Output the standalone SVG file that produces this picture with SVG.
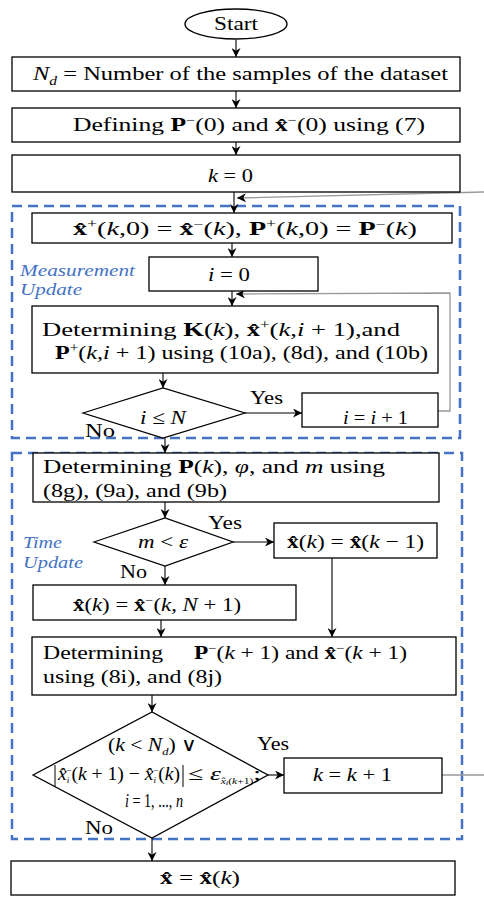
<svg xmlns="http://www.w3.org/2000/svg" width="484" height="897" viewBox="0 0 484 897">
<style>
text{font-family:"Liberation Serif","Times New Roman",serif;font-size:19px;fill:#000}
.box{fill:#fff;stroke:#000;stroke-width:1.3}
.dash{fill:none;stroke:#4472C4;stroke-width:2.5;stroke-dasharray:10,6}
.lbl{font-style:italic;fill:#4472C4;font-size:17px}
.c{fill:none;stroke:#000;stroke-width:1.1}
.g{fill:none;stroke:#999;stroke-width:1.3}
.i{font-style:italic}
.b{font-weight:bold}
.m{text-anchor:middle}
.yn{font-size:18px}
</style>
<defs>
<marker id="ah" viewBox="0 0 10 10" refX="10" refY="5" markerWidth="9" markerHeight="9" orient="auto" markerUnits="userSpaceOnUse">
<path d="M0,0 L10,5 L0,10 L3,5 z" fill="#000"/>
</marker>
</defs>

<g id="regions">
<rect class="dash" x="12" y="206" width="448" height="232"/>
<rect class="dash" x="12" y="453" width="450" height="386"/>
<text class="lbl" x="20" y="276" textLength="115" lengthAdjust="spacingAndGlyphs">Measurement</text>
<text class="lbl" x="20" y="295" textLength="62" lengthAdjust="spacingAndGlyphs">Update</text>
<text class="lbl" x="23" y="548" textLength="39" lengthAdjust="spacingAndGlyphs">Time</text>
<text class="lbl" x="23" y="568" textLength="60" lengthAdjust="spacingAndGlyphs">Update</text>
</g>

<g id="connectors">
<line class="c" x1="236" y1="40" x2="236" y2="57" marker-end="url(#ah)"/>
<line class="c" x1="236" y1="91" x2="236" y2="108" marker-end="url(#ah)"/>
<line class="c" x1="236" y1="142" x2="236" y2="155" marker-end="url(#ah)"/>
<line class="c" x1="234" y1="192" x2="234" y2="213" marker-end="url(#ah)"/>
<line class="g" x1="484" y1="192" x2="237" y2="198" marker-end="url(#ah)"/>
<line class="c" x1="232" y1="243" x2="232" y2="257" marker-end="url(#ah)"/>
<line class="c" x1="232" y1="291" x2="232" y2="306" marker-end="url(#ah)"/>
<polyline class="g" points="438,411 450,411 450,293 236,294" marker-end="url(#ah)"/>
<line class="c" x1="163" y1="373" x2="163" y2="388" marker-end="url(#ah)"/>
<line class="c" x1="245" y1="413" x2="302" y2="413" marker-end="url(#ah)"/>
<line class="c" x1="165" y1="438" x2="165" y2="453" marker-end="url(#ah)"/>
<line class="c" x1="165" y1="502" x2="165" y2="518" marker-end="url(#ah)"/>
<line class="c" x1="233" y1="542" x2="274" y2="542" marker-end="url(#ah)"/>
<line class="c" x1="165" y1="566" x2="165" y2="585" marker-end="url(#ah)"/>
<line class="c" x1="332" y1="558" x2="332" y2="637" marker-end="url(#ah)"/>
<line class="c" x1="161" y1="620" x2="161" y2="637" marker-end="url(#ah)"/>
<line class="c" x1="152" y1="695" x2="152" y2="712" marker-end="url(#ah)"/>
<line class="c" x1="268" y1="775" x2="284" y2="775" marker-end="url(#ah)"/>
<line class="g" x1="442" y1="775" x2="484" y2="775"/>
<line class="c" x1="152" y1="838" x2="152" y2="861" marker-end="url(#ah)"/>
<text class="yn" x="250" y="404" textLength="33" lengthAdjust="spacingAndGlyphs">Yes</text>
<text class="yn" x="85" y="437" textLength="30" lengthAdjust="spacingAndGlyphs">No</text>
<text class="yn" x="208" y="529" textLength="34" lengthAdjust="spacingAndGlyphs">Yes</text>
<text class="yn" x="120" y="578" textLength="27" lengthAdjust="spacingAndGlyphs">No</text>
<text class="yn" x="257" y="750" textLength="32" lengthAdjust="spacingAndGlyphs">Yes</text>
<text class="yn" x="85" y="834" textLength="28" lengthAdjust="spacingAndGlyphs">No</text>
</g>

<g id="start">
<ellipse cx="236" cy="24" rx="51" ry="15" fill="#fff" stroke="#000" stroke-width="1.3"/>
<text class="m" x="236" y="30" textLength="44" lengthAdjust="spacingAndGlyphs">Start</text>
</g>

<g id="n-samples">
<rect class="box" x="12" y="57" width="448" height="34"/>
<text x="33" y="80" textLength="415" lengthAdjust="spacingAndGlyphs"><tspan class="i">N</tspan><tspan class="i" font-size="12" dy="5">d</tspan><tspan dy="-5"> = Number of the samples of the dataset</tspan></text>
</g>

<g id="defining">
<rect class="box" x="12" y="108" width="448" height="34"/>
<text x="73" y="131" textLength="352" lengthAdjust="spacingAndGlyphs">Defining <tspan class="b">P</tspan><tspan font-size="12" dy="-7">−</tspan><tspan dy="7">(0) and  </tspan><tspan class="b">x̂</tspan><tspan font-size="12" dy="-7">−</tspan><tspan dy="7">(0) using (7)</tspan></text>
</g>

<g id="k0">
<rect class="box" x="12" y="155" width="448" height="37"/>
<text x="208" y="182" textLength="45" lengthAdjust="spacingAndGlyphs"><tspan class="i">k</tspan> = 0</text>
</g>

<g id="init-plus">
<rect class="box" x="32" y="213" width="420" height="30"/>
<text x="73" y="235" textLength="344" lengthAdjust="spacingAndGlyphs"><tspan class="b">x̂</tspan><tspan font-size="12" dy="-7">+</tspan><tspan dy="7">(</tspan><tspan class="i">k</tspan>,0) = <tspan class="b">x̂</tspan><tspan font-size="12" dy="-7">−</tspan><tspan dy="7">(</tspan><tspan class="i">k</tspan>),  <tspan class="b">P</tspan><tspan font-size="12" dy="-7">+</tspan><tspan dy="7">(</tspan><tspan class="i">k</tspan>,0) = <tspan class="b">P</tspan><tspan font-size="12" dy="-7">−</tspan><tspan dy="7">(</tspan><tspan class="i">k</tspan>)</text>
</g>

<g id="i0">
<rect class="box" x="149" y="257" width="169" height="34"/>
<text x="208" y="281" textLength="42" lengthAdjust="spacingAndGlyphs"><tspan class="i">i</tspan> = 0</text>
</g>

<g id="det-k">
<rect class="box" x="32" y="306" width="406" height="67"/>
<text x="42" y="336" textLength="358" lengthAdjust="spacingAndGlyphs">Determining    <tspan class="b">K</tspan>(<tspan class="i">k</tspan>),   <tspan class="b">x̂</tspan><tspan font-size="12" dy="-7">+</tspan><tspan dy="7">(</tspan><tspan class="i">k</tspan>,<tspan class="i">i</tspan> + 1),and</text>
<text x="55" y="359" textLength="373" lengthAdjust="spacingAndGlyphs"><tspan class="b">P</tspan><tspan font-size="12" dy="-7">+</tspan><tspan dy="7">(</tspan><tspan class="i">k</tspan>,<tspan class="i">i</tspan> + 1) using (10a), (8d), and (10b)</text>
</g>

<g id="dec-i">
<polygon points="83,413 163,388 245,413 163,438" fill="#fff" stroke="#000" stroke-width="1.3"/>
<text x="140" y="424" textLength="46" lengthAdjust="spacingAndGlyphs"><tspan class="i">i</tspan> ≤ <tspan class="i">N</tspan></text>
</g>

<g id="i-inc">
<rect class="box" x="302" y="393" width="136" height="34"/>
<text x="343" y="424" textLength="65" lengthAdjust="spacingAndGlyphs"><tspan class="i">i</tspan> = <tspan class="i">i</tspan> + 1</text>
</g>

<g id="det-p">
<rect class="box" x="33" y="453" width="406" height="49"/>
<text x="43" y="473" textLength="342" lengthAdjust="spacingAndGlyphs">Determining  <tspan class="b">P</tspan>(<tspan class="i">k</tspan>), <tspan class="i">φ</tspan>, and  <tspan class="i">m</tspan> using</text>
<text x="43" y="497" textLength="184" lengthAdjust="spacingAndGlyphs">(8g), (9a), and (9b)</text>
</g>

<g id="dec-m">
<polygon points="94,542 165,518 233,542 165,566" fill="#fff" stroke="#000" stroke-width="1.3"/>
<text x="138" y="548" textLength="50" lengthAdjust="spacingAndGlyphs"><tspan class="i">m</tspan> &lt; <tspan class="i">ε</tspan></text>
</g>

<g id="x-prev">
<rect class="box" x="274" y="523" width="163" height="35"/>
<text x="287" y="548" textLength="137" lengthAdjust="spacingAndGlyphs"><tspan class="b">x̂</tspan>(<tspan class="i">k</tspan>) = <tspan class="b">x̂</tspan>(<tspan class="i">k</tspan> − 1)</text>
</g>

<g id="x-n1">
<rect class="box" x="33" y="585" width="263" height="35"/>
<text x="73" y="611" textLength="168" lengthAdjust="spacingAndGlyphs"><tspan class="b">x̂</tspan>(<tspan class="i">k</tspan>) = <tspan class="b">x̂</tspan><tspan font-size="12" dy="-7">−</tspan><tspan dy="7">(</tspan><tspan class="i">k</tspan>, <tspan class="i">N</tspan> + 1)</text>
</g>

<g id="det-pminus">
<rect class="box" x="32" y="637" width="424" height="58"/>
<text x="43" y="659" textLength="120" lengthAdjust="spacingAndGlyphs">Determining</text>
<text x="194" y="659" textLength="213" lengthAdjust="spacingAndGlyphs"><tspan class="b">P</tspan><tspan font-size="12" dy="-7">−</tspan><tspan dy="7">(</tspan><tspan class="i">k</tspan> + 1) and <tspan class="b">x̂</tspan><tspan font-size="12" dy="-7">−</tspan><tspan dy="7">(</tspan><tspan class="i">k</tspan> + 1)</text>
<text x="43" y="683" textLength="179" lengthAdjust="spacingAndGlyphs">using (8i), and (8j)</text>
</g>

<g id="dec-k">
<polygon points="33,775 152,712 268,775 152,838" fill="#fff" stroke="#000" stroke-width="1.3"/>
<text x="108" y="751" textLength="89" lengthAdjust="spacingAndGlyphs">(<tspan class="i">k</tspan> &lt; <tspan class="i">N</tspan><tspan class="i" font-size="11" dy="4">d</tspan><tspan dy="-4">) ∨</tspan></text>
<line x1="55" y1="765" x2="55" y2="787" stroke="#000" stroke-width="1"/>
<line x1="183" y1="765" x2="183" y2="787" stroke="#000" stroke-width="1"/>
<text x="58" y="780" font-size="15" textLength="122" lengthAdjust="spacingAndGlyphs"><tspan class="i">x̂</tspan><tspan class="i" font-size="9" dy="3">i</tspan><tspan font-size="9" dx="-3" dy="-10">−</tspan><tspan dy="7">(</tspan><tspan class="i">k</tspan> + 1) − <tspan class="i">x̂</tspan><tspan class="i" font-size="9" dy="3">i</tspan><tspan font-size="9" dx="-3" dy="-10">−</tspan><tspan dy="7">(</tspan><tspan class="i">k</tspan>)</text>
<text x="188" y="780" font-size="15" textLength="73" lengthAdjust="spacingAndGlyphs">≤ <tspan class="i">ε</tspan><tspan class="i" font-size="8" dy="4">x̂</tspan><tspan class="i" font-size="6" dy="1">i</tspan><tspan font-size="8" dy="-1">(</tspan><tspan class="i" font-size="8">k</tspan><tspan font-size="8">+1)</tspan><tspan dy="-4">;</tspan></text>
<text x="125" y="807" font-size="10" textLength="58" lengthAdjust="spacingAndGlyphs"><tspan class="i">i</tspan> = 1, ..., <tspan class="i">n</tspan></text>
</g>

<g id="k-inc">
<rect class="box" x="284" y="758" width="158" height="35"/>
<text x="313" y="781" textLength="79" lengthAdjust="spacingAndGlyphs"><tspan class="i">k</tspan> = <tspan class="i">k</tspan> + 1</text>
</g>

<g id="result">
<rect class="box" x="11" y="861" width="444" height="34"/>
<text x="160" y="884" textLength="80" lengthAdjust="spacingAndGlyphs"><tspan class="b">x̂</tspan> = <tspan class="b">x̂</tspan>(<tspan class="i">k</tspan>)</text>
</g>
</svg>
